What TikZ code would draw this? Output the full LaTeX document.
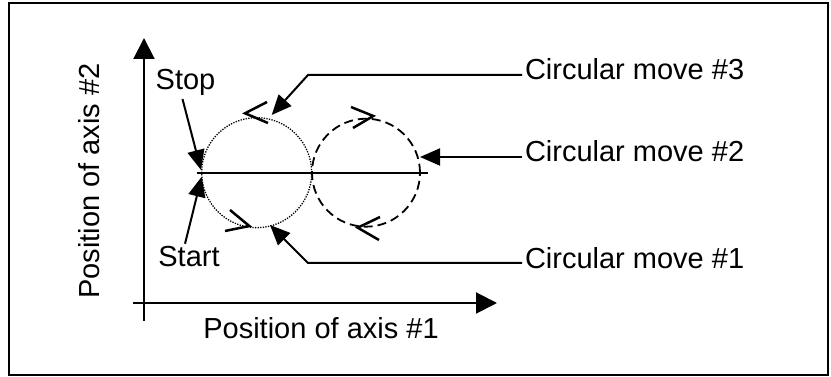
\documentclass[tikz,border=0pt]{standalone}
\usepackage{fontspec}
\setmainfont{Liberation Sans}
\usetikzlibrary{positioning}
\usetikzlibrary{arrows.meta}

\begin{document}
\begin{tikzpicture}[x=1pt, y=1pt, line width=2pt,
    every node/.style={font=\fontsize{29}{34}\selectfont, inner sep=2pt},
    punta/.style={-{Triangle[length=20pt, width=17pt]}},
    marca/.style={line width=2.5pt}]
  \useasboundingbox (0,0) rectangle (831,377);
  \draw[line width=2.5pt] (9,2) rectangle (828,374);

  % Ejes
  \coordinate (ex0) at (133,74);
  \coordinate (ex) at (497,74);
  \coordinate (ey0) at (144,56);
  \coordinate (ey) at (144,339);
  \draw[-{Triangle[length=21pt, width=21pt]}] (ex0) -- (ex);
  \draw[-{Triangle[length=21pt, width=21pt]}] (ey0) -- (ey);
  \node (lx) at (321,49) {Position of axis \#1};
  \node[rotate=90] (ly) at (89,196) {Position of axis \#2};

  % Circulos
  \coordinate (c1) at (256.7,204.3);
  \coordinate (c2) at (366,204.3);
  \coordinate (h0) at (196.7,204.3);
  \coordinate (h1) at (428,204.3);
  \draw[line width=1.3pt, dash pattern=on 1.3pt off 1.3pt] (c1) circle (55);
  \draw[line width=1.8pt, dash pattern=on 9pt off 5pt] (c2) circle (54);
  \draw (h0) -- (h1);

  % Sentido de giro
  \draw[marca] (267,275) -- (245,263.7) -- (268,254);
  \draw[marca] (230,167) -- (249.3,151) -- (225,146);
  \draw[marca] (351,270) -- (373.3,261) -- (353,249);
  \draw[marca] (380,160) -- (357.7,149.3) -- (379,137);

  % Inicio y fin
  \coordinate (p1) at (201,207);
  \coordinate (p0) at (201.7,200.3);
  \node[anchor=base] (stop) at (185.5,287) {Stop};
  \node[anchor=base] (start) at (189,110) {Start};
  \draw[punta] ([xshift=-3pt]stop.south) -- (p1);
  \draw[punta] ([xshift=-4pt]start.north) -- (p0);

  % Etiquetas
  \coordinate (t3) at (271.7,262);
  \coordinate (b3) at (308,302);
  \coordinate (t2) at (420,220);
  \coordinate (t1) at (270,152);
  \coordinate (b1) at (308,114);
  \node[anchor=base west] (m3) at (522,297) {Circular move \#3};
  \node[anchor=base west] (m2) at (522,215) {Circular move \#2};
  \node[anchor=base west] (m1) at (522,108) {Circular move \#1};
  \draw[punta] (m3.west |- b3) -- (b3) -- (t3);
  \draw[punta] (m2.west |- t2) -- (t2);
  \draw[punta] (m1.west |- b1) -- (b1) -- (t1);
\end{tikzpicture}
\end{document}
